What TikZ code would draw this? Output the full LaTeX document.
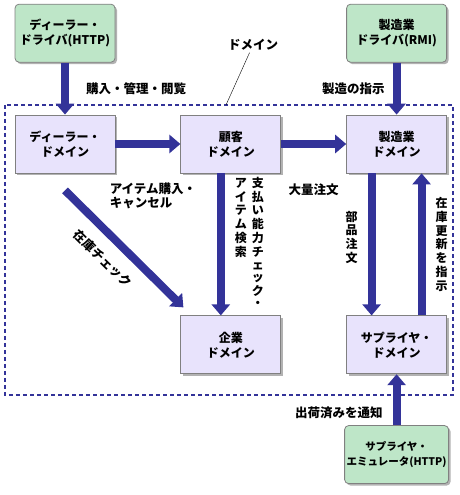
\documentclass[tikz,border=0pt]{standalone}
\usepackage{fontspec}
\setmainfont{Noto Sans CJK JP}
\usetikzlibrary{arrows.meta, positioning, shadows}
\definecolor{flowblue}{RGB}{51,51,153}
\definecolor{domainfill}{RGB}{232,227,252}
\definecolor{driverfill}{RGB}{190,230,200}
\definecolor{boxborder}{RGB}{128,128,128}

\begin{document}
\begin{tikzpicture}[
        x=1pt, y=1pt,
        domainbox/.style={rectangle, draw=boxborder, thick, fill=domainfill, align=center, inner sep=2pt, minimum width=100pt, minimum height=58pt, font=\bfseries\fontsize{12}{15}\selectfont, drop shadow={shadow xshift=2pt, shadow yshift=-2pt, fill=black, opacity=0.3}},
        driverbox/.style={domainbox, rounded corners=4pt, fill=driverfill},
        flow/.style={draw, -{Triangle[length=11pt, width=18pt]}, line width=8pt, flowblue},
        area/.style={draw=flowblue, line width=1.6pt, dash pattern=on 4pt off 3pt},
        pinline/.style={draw, thin, black, shorten <=2pt},
        lbl/.style={inner sep=0pt, text=black, font=\bfseries\fontsize{12.5}{14}\selectfont},
        vlbl/.style={lbl, align=center, font=\bfseries\fontsize{12}{13.8}\selectfont},
        node distance=52pt and 65pt
        ]
        \useasboundingbox (0,0) rectangle (460,495);

        % Domain area
        \coordinate (areanw) at (5,390);
        \coordinate (arease) at (453,100);
        \coordinate (areapin) at (226,390);
        \draw [area] (areanw) rectangle (arease);
        \node (domainlabel) [lbl] at (253,450) {ドメイン};
        \draw [pinline] (domainlabel) -- (areapin);

        % Nodes
        \node (dealer) [domainbox] at (65,351) {ディーラー・\\ドメイン};
        \node (customer) [domainbox, right=of dealer] {顧客\\ドメイン};
        \node (mfg) [domainbox, right=of customer] {製造業\\ドメイン};
        \node (dealerdrv) [driverbox, above=of dealer] {ディーラー・\\ドライバ(HTTP)};
        \node (mfgdrv) [driverbox, above=of mfg] {製造業\\ドライバ(RMI)};
        \node (corp) [domainbox, below=142pt of customer] {企業\\ドメイン};
        \node (supplier) [domainbox, below=142pt of mfg] {サプライヤ・\\ドメイン};
        \node (emulator) [driverbox, below=51pt of supplier, font=\bfseries\fontsize{10.5}{15}\selectfont] {サプライヤ・\\エミュレータ(HTTP)};

        % Arrows with labels
        \draw [flow] (dealerdrv) -- node[lbl, midway, right=17pt] {購入・管理・閲覧} (dealer);
        \draw [flow] (mfgdrv) -- node[lbl, midway, left=8pt] {製造の指示} (mfg);
        \draw [flow] (dealer) -- node[lbl, midway, below=35pt, xshift=5pt, align=left] {アイテム購入・\\キャンセル} (customer);
        \draw [flow] (customer) -- node[lbl, midway, below=36pt] {大量注文} (mfg);
        \draw [flow] ([xshift=-10pt]customer.south) -- node[lbl, midway, right=10pt, font=\bfseries\fontsize{12}{12.4}\selectfont] {\begin{tabular}[c]{@{}c@{\hspace{5pt}}c@{}}
            ア & 支\\ イ & 払\\ テ & い\\ ム & 能\\ 検 & 力\\ 索 & チ\\ & ェ\\ & ッ\\ & ク\\ & ・
          \end{tabular}} ([xshift=-10pt]corp.north);
        \draw [flow] ([yshift=-17pt]dealer.south) -- node[lbl, pos=0.45, sloped, below=12pt] {在庫チェック} ([shift={(3pt,8pt)}]corp.north west);
        \draw [flow] ([xshift=-25pt]mfg.south) -- node[vlbl, pos=0.45, left=10pt] {部\\品\\注\\文} ([xshift=-25pt]supplier.north);
        \draw [flow] ([xshift=25pt]supplier.north) -- node[vlbl, midway, right=10pt] {在\\庫\\更\\新\\を\\指\\示} ([xshift=25pt]mfg.south);
        \draw [flow] (emulator) -- node[lbl, pos=0.25, left=10pt] {出荷済みを通知} (supplier);

    \end{tikzpicture}
\end{document}
